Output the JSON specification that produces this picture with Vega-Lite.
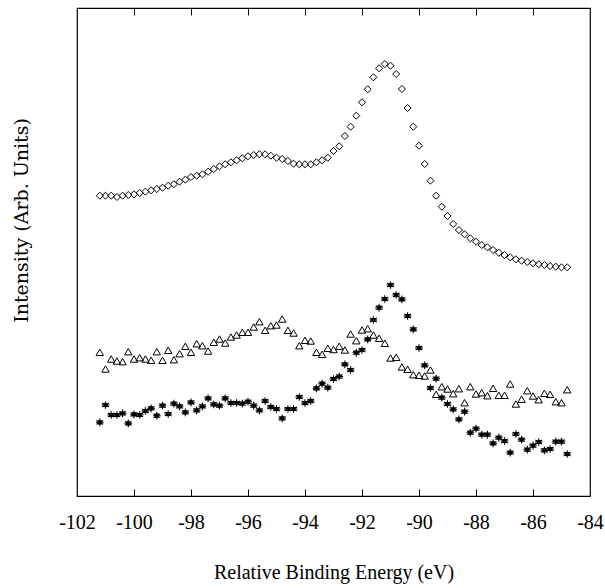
{
  "$schema": "https://vega.github.io/schema/vega-lite/v6.json",
  "width": 513,
  "height": 488,
  "autosize": {"type": "none"},
  "padding": {"left": 77, "top": 8, "right": 15, "bottom": 92},
  "background": "white",
  "config": {
    "view": {"stroke": "black", "strokeWidth": 1.2},
    "axis": {"grid": false, "domain": false}
  },
  "datasets": {
    "dia": [
      {"e":-101.2,"v":300.3},{"e":-101.0,"v":300.3},{"e":-100.8,"v":300.3},{"e":-100.6,"v":299},{"e":-100.4,"v":300.3},
      {"e":-100.2,"v":301},{"e":-100.0,"v":301.7},{"e":-99.8,"v":303},{"e":-99.6,"v":304.3},{"e":-99.4,"v":305.7},
      {"e":-99.2,"v":307},{"e":-99.0,"v":308.3},{"e":-98.8,"v":310.3},{"e":-98.6,"v":311.7},{"e":-98.4,"v":314.3},
      {"e":-98.2,"v":316.3},{"e":-98.0,"v":319},{"e":-97.8,"v":320.3},{"e":-97.6,"v":321.7},{"e":-97.4,"v":324.3},
      {"e":-97.2,"v":327},{"e":-97.0,"v":329.7},{"e":-96.8,"v":331.7},{"e":-96.6,"v":333.7},{"e":-96.4,"v":335.7},
      {"e":-96.2,"v":337.7},{"e":-96.0,"v":339.7},{"e":-95.8,"v":341},{"e":-95.6,"v":341.7},{"e":-95.4,"v":341.7},
      {"e":-95.2,"v":340.3},{"e":-95.0,"v":338.3},{"e":-94.8,"v":337},{"e":-94.6,"v":335},{"e":-94.4,"v":332.3},
      {"e":-94.2,"v":331.7},{"e":-94.0,"v":331.7},{"e":-93.8,"v":331.7},{"e":-93.6,"v":333.7},{"e":-93.4,"v":335.7},
      {"e":-93.2,"v":338.3},{"e":-93.0,"v":345},{"e":-92.8,"v":349.7},{"e":-92.6,"v":360},{"e":-92.4,"v":369.3},
      {"e":-92.2,"v":380.3},{"e":-92.0,"v":393.7},{"e":-91.8,"v":406.7},{"e":-91.6,"v":418.7},{"e":-91.4,"v":427.7},
      {"e":-91.2,"v":432},{"e":-91.0,"v":430.3},{"e":-90.8,"v":422},{"e":-90.6,"v":407},{"e":-90.4,"v":388},
      {"e":-90.2,"v":369.3},{"e":-90.0,"v":350.3},{"e":-89.8,"v":332},{"e":-89.6,"v":315.3},{"e":-89.4,"v":300.3},
      {"e":-89.2,"v":289.3},{"e":-89.0,"v":280},{"e":-88.8,"v":272},{"e":-88.6,"v":266},{"e":-88.4,"v":261.7},
      {"e":-88.2,"v":257.7},{"e":-88.0,"v":254.3},{"e":-87.8,"v":251},{"e":-87.6,"v":248.7},{"e":-87.4,"v":246},
      {"e":-87.2,"v":243.3},{"e":-87.0,"v":241},{"e":-86.8,"v":238.7},{"e":-86.6,"v":236.7},{"e":-86.4,"v":235.3},
      {"e":-86.2,"v":234},{"e":-86.0,"v":232.7},{"e":-85.8,"v":231.7},{"e":-85.6,"v":231},{"e":-85.4,"v":230},
      {"e":-85.2,"v":229.3},{"e":-85.0,"v":228.7},{"e":-84.8,"v":228.7}
    ],
    "tri": [
      {"e":-101.2,"v":143.7},{"e":-101.0,"v":127},{"e":-100.8,"v":137},{"e":-100.6,"v":135},{"e":-100.4,"v":134.3},
      {"e":-100.2,"v":144.3},{"e":-100.0,"v":137},{"e":-99.8,"v":138.3},{"e":-99.6,"v":137},{"e":-99.4,"v":135.7},
      {"e":-99.2,"v":144.3},{"e":-99.0,"v":135.7},{"e":-98.8,"v":145.7},{"e":-98.6,"v":136.3},{"e":-98.4,"v":142.3},
      {"e":-98.2,"v":149.7},{"e":-98.0,"v":143.7},{"e":-97.8,"v":152.3},{"e":-97.6,"v":150.3},{"e":-97.4,"v":145},
      {"e":-97.2,"v":153.7},{"e":-97.0,"v":157},{"e":-96.8,"v":153},{"e":-96.6,"v":159},{"e":-96.4,"v":161},
      {"e":-96.2,"v":163.7},{"e":-96.0,"v":163.7},{"e":-95.8,"v":169},{"e":-95.6,"v":174.3},{"e":-95.4,"v":165.7},
      {"e":-95.2,"v":170.3},{"e":-95.0,"v":171},{"e":-94.8,"v":177},{"e":-94.6,"v":165.7},{"e":-94.4,"v":163},
      {"e":-94.2,"v":150.3},{"e":-94.0,"v":155.7},{"e":-93.8,"v":155},{"e":-93.6,"v":143.7},{"e":-93.4,"v":141.7},
      {"e":-93.2,"v":147.7},{"e":-93.0,"v":146.5},{"e":-92.8,"v":149.8},{"e":-92.6,"v":146},{"e":-92.4,"v":162},
      {"e":-92.2,"v":155.3},{"e":-92.0,"v":166},{"e":-91.8,"v":167.3},{"e":-91.6,"v":161},{"e":-91.4,"v":157.7},
      {"e":-91.2,"v":152.7},{"e":-91.0,"v":138},{"e":-90.8,"v":138.7},{"e":-90.6,"v":129},{"e":-90.4,"v":126.7},
      {"e":-90.2,"v":121.3},{"e":-90.0,"v":120.7},{"e":-89.8,"v":120},{"e":-89.6,"v":126},{"e":-89.4,"v":101.7},
      {"e":-89.2,"v":109.3},{"e":-89.0,"v":107},{"e":-88.8,"v":102.3},{"e":-88.6,"v":107.3},{"e":-88.4,"v":93.3},
      {"e":-88.2,"v":109.3},{"e":-88.0,"v":102},{"e":-87.8,"v":103.3},{"e":-87.6,"v":100.3},{"e":-87.4,"v":107.7},
      {"e":-87.2,"v":100.7},{"e":-87.0,"v":100.7},{"e":-86.8,"v":112},{"e":-86.6,"v":92},{"e":-86.4,"v":96.8},
      {"e":-86.2,"v":105.3},{"e":-86.0,"v":100},{"e":-85.8,"v":96.3},{"e":-85.6,"v":102.7},{"e":-85.4,"v":101.7},
      {"e":-85.2,"v":94.3},{"e":-85.0,"v":93.3},{"e":-84.8,"v":106.3}
    ],
    "ast": [
      {"e":-101.2,"v":73.7},{"e":-101.0,"v":91},{"e":-100.8,"v":81},{"e":-100.6,"v":81},{"e":-100.4,"v":82.7},
      {"e":-100.2,"v":72.7},{"e":-100.0,"v":81.7},{"e":-99.8,"v":81},{"e":-99.6,"v":85},{"e":-99.4,"v":87.7},
      {"e":-99.2,"v":80.3},{"e":-99.0,"v":90.3},{"e":-98.8,"v":82},{"e":-98.6,"v":92.3},{"e":-98.4,"v":89.7},
      {"e":-98.2,"v":83.7},{"e":-98.0,"v":93.7},{"e":-97.8,"v":85.7},{"e":-97.6,"v":89.7},{"e":-97.4,"v":97.7},
      {"e":-97.2,"v":91.7},{"e":-97.0,"v":90.3},{"e":-96.8,"v":97.7},{"e":-96.6,"v":93},{"e":-96.4,"v":93},
      {"e":-96.2,"v":92.3},{"e":-96.0,"v":94.3},{"e":-95.8,"v":90.3},{"e":-95.6,"v":85.7},{"e":-95.4,"v":95},
      {"e":-95.2,"v":89},{"e":-95.0,"v":87},{"e":-94.8,"v":77.7},{"e":-94.6,"v":87},{"e":-94.4,"v":87},
      {"e":-94.2,"v":99},{"e":-94.0,"v":93},{"e":-93.8,"v":95},{"e":-93.6,"v":107.7},{"e":-93.4,"v":112.3},
      {"e":-93.2,"v":108.3},{"e":-93.0,"v":117},{"e":-92.8,"v":119.5},{"e":-92.6,"v":131.7},{"e":-92.4,"v":126},
      {"e":-92.2,"v":143.3},{"e":-92.0,"v":146},{"e":-91.8,"v":156.7},{"e":-91.6,"v":176},{"e":-91.4,"v":188.3},
      {"e":-91.2,"v":197},{"e":-91.0,"v":211},{"e":-90.8,"v":201},{"e":-90.6,"v":196.7},{"e":-90.4,"v":180},
      {"e":-90.2,"v":166.7},{"e":-90.0,"v":148},{"e":-89.8,"v":130.7},{"e":-89.6,"v":108},{"e":-89.4,"v":117.3},
      {"e":-89.2,"v":98.3},{"e":-89.0,"v":92},{"e":-88.8,"v":86.7},{"e":-88.6,"v":76.7},{"e":-88.4,"v":84.3},
      {"e":-88.2,"v":63.3},{"e":-88.0,"v":67.3},{"e":-87.8,"v":61.3},{"e":-87.6,"v":61.3},{"e":-87.4,"v":52.7},
      {"e":-87.2,"v":58.3},{"e":-87.0,"v":55},{"e":-86.8,"v":43.3},{"e":-86.6,"v":62},{"e":-86.4,"v":56.3},
      {"e":-86.2,"v":46.3},{"e":-86.0,"v":50.3},{"e":-85.8,"v":54},{"e":-85.6,"v":45.7},{"e":-85.4,"v":47},
      {"e":-85.2,"v":54.3},{"e":-85.0,"v":54.3},{"e":-84.8,"v":42}
    ]
  },
  "layer": [
    {
      "data": {"name": "dia"},
      "mark": {"type": "point", "shape": "diamond", "size": 50, "filled": false, "stroke": "black", "strokeWidth": 1, "opacity": 1},
      "encoding": {
        "x": {
          "field": "e", "type": "quantitative",
          "scale": {"domain": [-102, -84], "nice": false, "zero": false},
          "axis": {
            "orient": "bottom", "values": [-102,-100,-98,-96,-94,-92,-90,-88,-86,-84],
            "ticks": false,
            "labelExpr": "(datum.value < 0 ? '-' : '') + abs(datum.value)",
            "labelFont": "'Liberation Serif', 'Times New Roman', serif", "labelFontSize": 20, "labelColor": "black", "labelPadding": 16,
            "labelFlush": false, "labelOverlap": false,
            "title": "Relative Binding Energy (eV)", "titleFont": "'Liberation Serif', 'Times New Roman', serif", "titleFontSize": 20,
            "titleFontWeight": "normal", "titleColor": "black", "titlePadding": 30
          }
        },
        "y": {
          "field": "v", "type": "quantitative",
          "scale": {"domain": [0, 488], "nice": false, "zero": false},
          "axis": {
            "labels": false, "ticks": false,
            "title": "Intensity (Arb. Units)", "titleFont": "DejaVu Serif", "titleFontSize": 19,
            "titleFontWeight": "normal", "titleColor": "black", "titlePadding": 46, "titleY": 212
          }
        }
      }
    },
    {
      "data": {"name": "tri"},
      "mark": {"type": "point", "shape": "triangle-up", "size": 55, "filled": false, "stroke": "black", "strokeWidth": 1, "opacity": 1},
      "encoding": {
        "x": {
          "field": "e", "type": "quantitative",
          "axis": {
            "orient": "top", "offset": -488, "values": [-100,-98,-96,-94,-92,-90,-88,-86],
            "tickSize": 7, "tickColor": "black", "tickWidth": 1, "labels": false, "title": null
          }
        },
        "y": {"field": "v", "type": "quantitative", "axis": null}
      }
    },
    {
      "data": {"name": "ast"},
      "mark": {
        "type": "point",
        "shape": "M0,-1L0,1M-0.87,-0.5L0.87,0.5M-0.87,0.5L0.87,-0.5M-1,0L1,0M-0.4,-0.4L0.4,-0.4L0.4,0.4L-0.4,0.4Z",
        "size": 60, "filled": true, "fill": "black", "stroke": "black", "strokeWidth": 1.1, "opacity": 1
      },
      "encoding": {
        "x": {
          "field": "e", "type": "quantitative",
          "axis": {
            "orient": "bottom", "offset": -488, "values": [-100,-98,-96,-94,-92,-90,-88,-86],
            "tickSize": 7, "tickColor": "black", "tickWidth": 1, "labels": false, "title": null
          }
        },
        "y": {"field": "v", "type": "quantitative", "axis": null}
      }
    }
  ],
  "resolve": {"axis": {"x": "independent", "y": "independent"}}
}
